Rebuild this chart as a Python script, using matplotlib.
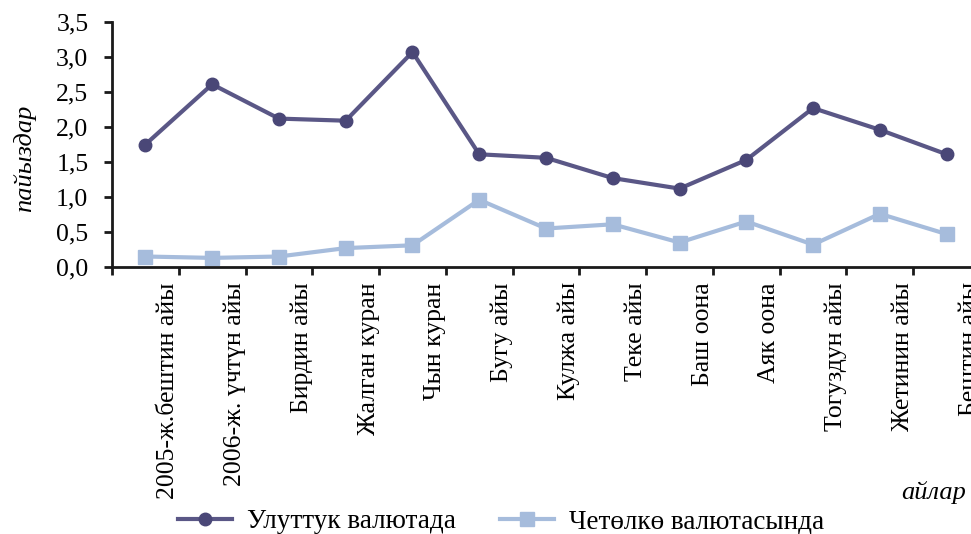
import numpy as np
import matplotlib
matplotlib.use("Agg")
import matplotlib.pyplot as plt
import matplotlib.transforms as mtransforms
from matplotlib.ticker import FuncFormatter

plt.rcParams["font.family"] = ["Liberation Serif", "DejaVu Serif"]

# ── Data ─────────────────────────────────────────────────────────
months = [
    "2005-ж.бештин айы", "2006-ж. үчтүн айы", "Бирдин айы", "Жалган куран",
    "Чын куран", "Бугу айы", "Кулжа айы", "Теке айы", "Баш оона",
    "Аяк оона", "Тогуздун айы", "Жетинин айы", "Бештин айы",
]
national = [1.75, 2.61, 2.12, 2.09, 3.07, 1.61, 1.56, 1.27, 1.12, 1.53, 2.27, 1.96, 1.61]
foreign = [0.15, 0.13, 0.15, 0.27, 0.31, 0.96, 0.55, 0.61, 0.35, 0.65, 0.32, 0.76, 0.47]

DARK = "#5a5786"
DARK_MK = "#4a4777"
LIGHT = "#a6bcdc"

fig = plt.figure(figsize=(9.71, 5.34), dpi=100)
ax = fig.add_axes([112 / 971, 0.5, 868 / 971, 0.4588])

x = np.arange(len(months))
ax.plot(x, national, color=DARK, lw=3, marker="o", ms=9,
        mfc=DARK_MK, mec=DARK_MK, label="Улуттук валютада", clip_on=False)
ax.plot(x, foreign, color=LIGHT, lw=3, marker="s", ms=9.5,
        mfc=LIGHT, mec=LIGHT, label="Четөлкө валютасында", clip_on=False)

ax.set_xlim(-0.5, len(months) - 0.5)
ax.set_ylim(0, 3.5)
ax.set_yticks(np.arange(0, 3.51, 0.5))
ax.yaxis.set_major_formatter(FuncFormatter(lambda v, _: f"{v:.1f}".replace(".", ",")))

for s in ["top", "right"]:
    ax.spines[s].set_visible(False)
for s in ["left", "bottom"]:
    ax.spines[s].set_linewidth(2)
    ax.spines[s].set_color("#1a1a1a")

# boundary ticks (major) and label positions (minor)
ax.set_xticks(np.arange(-0.5, len(months), 1.0))
ax.set_xticklabels([])
ax.set_xticks(x, minor=True)
ax.set_xticklabels(months, minor=True, rotation=90, ha="center", va="top")
ax.tick_params(axis="x", which="major", length=6, width=2, color="#1a1a1a")
ax.tick_params(axis="x", which="minor", length=0, pad=11, labelsize=18.5)
ax.tick_params(axis="y", length=6, width=2, color="#1a1a1a", pad=11, labelsize=18.5)

shift = mtransforms.ScaledTranslation(0.23, 0, fig.dpi_scale_trans)
for lab in ax.get_xticklabels(minor=True):
    lab.set_transform(lab.get_transform() + shift)

fig.text(25 / 971, 1 - 158 / 534, "пайыздар", rotation=90, style="italic",
         fontsize=19, ha="center", va="center")
fig.text(966 / 971, 1 - 493 / 534, "айлар", style="italic",
         fontsize=19, ha="right", va="center")

fig.legend(loc="center", bbox_to_anchor=(0.516, 1 - 522 / 534), ncol=2,
           frameon=False, fontsize=19.5, handlelength=2.0, handletextpad=0.55,
           columnspacing=1.6)

fig.savefig("out.png", dpi=100, facecolor="white")
